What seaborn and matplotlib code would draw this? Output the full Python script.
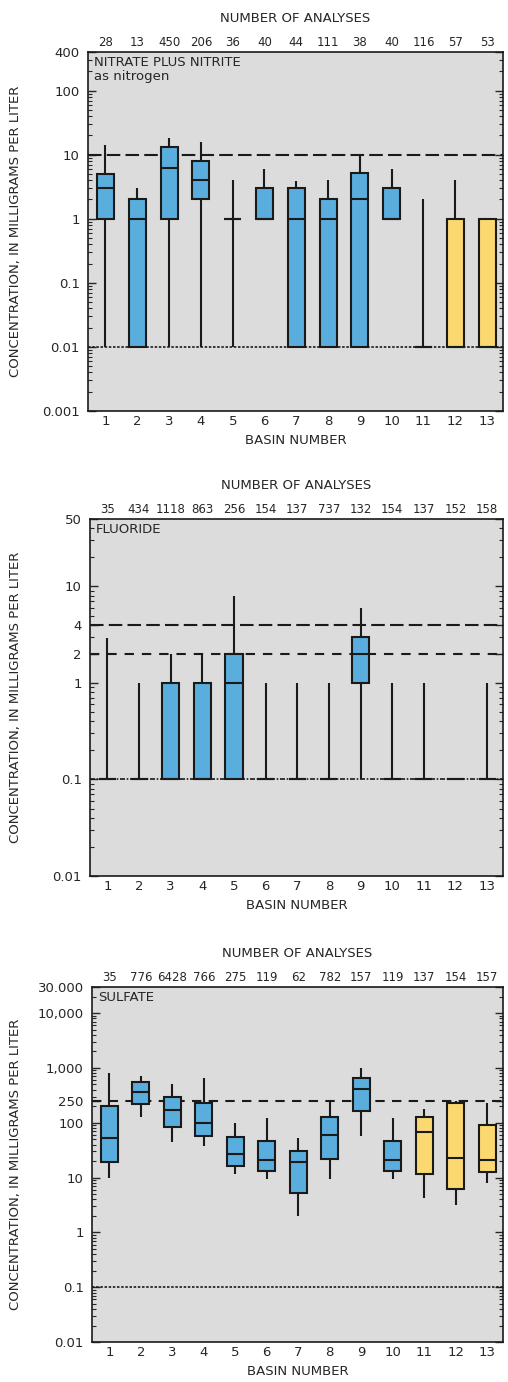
import matplotlib
matplotlib.use('Agg')
import matplotlib.pyplot as plt
import matplotlib.ticker as mticker
import numpy as np
import pandas as pd
import seaborn as sns

"""
Box plots of nitrate, fluoride and sulfate concentrations by basin.
"""

basins = [str(i) for i in range(1, 14)]
basin_group = ['blue'] * 10 + ['yellow'] * 3

# nitrate plus nitrite as nitrogen
nitrate_n = [28, 13, 450, 206, 36, 40, 44, 111, 38, 40, 116, 57, 53]
nitrate_low = [0.01, 0.01, 0.01, 0.01, 0.01, 1, 0.01, 0.01, 0.01, 1, 0.01, 0.01, 0.01]
nitrate_q1 = [1, 0.01, 1, 2, 1, 1, 0.01, 0.01, 0.01, 1, 0.01, 0.01, 0.01]
nitrate_med = [3, 1, 6.3, 4, 1, 1, 1, 1, 2, 1, 0.01, 0.01, 0.01]
nitrate_q3 = [5, 2, 13, 8, 1, 3, 3, 2, 5.2, 3, 0.01, 1, 1]
nitrate_high = [14.4, 3, 18, 16, 4, 6, 3.9, 4, 9.6, 6, 2, 4, 1]

# fluoride
fluoride_n = [35, 434, 1118, 863, 256, 154, 137, 737, 132, 154, 137, 152, 158]
fluoride_low = [0.1] * 13
fluoride_q1 = [0.1, 0.1, 0.1, 0.1, 0.1, 0.1, 0.1, 0.1, 1, 0.1, 0.1, 0.1, 0.1]
fluoride_med = [0.1, 0.1, 0.1, 0.1, 1, 0.1, 0.1, 0.1, 2, 0.1, 0.1, 0.1, 0.1]
fluoride_q3 = [0.1, 0.1, 1, 1, 2, 0.1, 0.1, 0.1, 3, 0.1, 0.1, 0.1, 0.1]
fluoride_high = [2.9, 1, 2, 2, 8, 1, 1, 1, 6, 1, 1, 0.1, 1]

# sulfate
sulfate_n = [35, 776, 6428, 766, 275, 119, 62, 782, 157, 119, 137, 154, 157]
sulfate_low = [10, 129, 45, 37, 11.8, 9.6, 2.0, 9.6, 58, 9.6, 4.3, 3.1, 7.8]
sulfate_q1 = [19.6, 220, 85, 58, 16.5, 13.4, 5.3, 22, 166, 13.4, 11.8, 6.3, 12.9]
sulfate_med = [53, 366, 172, 100, 27, 21, 19.6, 61, 415, 21, 69, 23, 21]
sulfate_q3 = [205, 556, 296, 230, 56, 47, 31, 129, 660, 47, 129, 230, 92]
sulfate_high = [810, 716, 510, 660, 100, 123, 53, 240, 1000, 123, 180, 250, 230]

colors = {'blue': '#5aaedd', 'yellow': '#fbd870'}
bg = '#dcdcdc'

sns.set_style('ticks')
plt.rcParams['font.family'] = ['DejaVu Sans']
plt.rcParams['axes.linewidth'] = 1.2


def five_number_frame(low, q1, med, q3, high):
    rows = []
    for i, b in enumerate(basins):
        for v in (low[i], q1[i], med[i], q3[i], high[i]):
            rows.append({'basin': b, 'group': basin_group[i], 'value': v})
    return pd.DataFrame(rows)


def draw_panel(ax, df, counts, ylim, yticks, yticklabels, title, refs, left_px):
    ax.set_facecolor(bg)
    sns.boxplot(data=df, x='basin', y='value', hue='group', palette=colors,
                order=basins, whis=(0, 100), width=0.54, dodge=False,
                saturation=1, linewidth=1.5, linecolor='#1a1a1a', log_scale=True,
                showcaps=False, legend=False, ax=ax, zorder=3)
    for val, ls, lw in refs:
        ax.axhline(val, color='#1a1a1a', linestyle=ls, linewidth=lw, zorder=2)
    ax.set_ylim(ylim)
    ax.set_xlim(-0.55, 12.5)
    ax.yaxis.set_major_locator(mticker.FixedLocator(yticks))
    ax.yaxis.set_major_formatter(mticker.FixedFormatter(yticklabels))
    ax.yaxis.set_minor_locator(mticker.LogLocator(base=10, subs=np.arange(2, 10)))
    ax.yaxis.set_minor_formatter(mticker.NullFormatter())
    ax.tick_params(axis='y', which='major', direction='in', length=6, width=1,
                   left=True, right=True, labelsize=9.5, pad=6)
    ax.tick_params(axis='y', which='minor', direction='in', length=3, width=0.8,
                   left=True, right=True)
    ax.tick_params(axis='x', length=0, labelsize=9.5, pad=3)
    ax.set_xlabel('BASIN NUMBER', fontsize=9.5, labelpad=4)
    ax.set_ylabel('CONCENTRATION, IN MILLIGRAMS PER LITER', fontsize=9.5)
    ax.yaxis.set_label_coords((22 - left_px) / (503 - left_px), 0.5)
    for s in ax.spines.values():
        s.set_visible(True)
        s.set_color('#1a1a1a')
    top = ax.secondary_xaxis('top')
    top.set_xticks(range(len(basins)))
    top.set_xticklabels([str(c) for c in counts], fontsize=8.5)
    top.tick_params(length=0, pad=2)
    top.spines['top'].set_visible(False)
    top.set_xlabel('NUMBER OF ANALYSES', fontsize=9.5, labelpad=10)
    ax.text(0.015, 0.988, title, transform=ax.transAxes, va='top', ha='left',
            fontsize=9.5, linespacing=1.05, zorder=4)


fig = plt.figure(figsize=(5.08, 13.82), dpi=100)
W, H = 508, 1382


def axes_px(left, top, right, bottom):
    return fig.add_axes([left / W, (H - bottom) / H, (right - left) / W, (bottom - top) / H])


ax1 = axes_px(88, 52, 503, 411)
ax2 = axes_px(90, 519, 503, 876)
ax3 = axes_px(92, 987, 503, 1342)

draw_panel(ax1, five_number_frame(nitrate_low, nitrate_q1, nitrate_med, nitrate_q3, nitrate_high),
           nitrate_n, (0.001, 400), [0.001, 0.01, 0.1, 1, 10, 100, 400],
           ['0.001', '0.01', '0.1', '1', '10', '100', '400'],
           'NITRATE PLUS NITRITE\nas nitrogen',
           [(10, (0, (6.5, 2.5)), 1.5), (0.01, (0, (1.5, 1)), 1.2)], 88)

draw_panel(ax2, five_number_frame(fluoride_low, fluoride_q1, fluoride_med, fluoride_q3, fluoride_high),
           fluoride_n, (0.01, 50), [0.01, 0.1, 1, 2, 4, 10, 50],
           ['0.01', '0.1', '1', '2', '4', '10', '50'],
           'FLUORIDE',
           [(4, (0, (6.5, 2.5)), 1.5), (2, (0, (4.5, 3.8)), 1.5), (0.1, (0, (3, 1, 1, 1)), 1.2)], 90)

draw_panel(ax3, five_number_frame(sulfate_low, sulfate_q1, sulfate_med, sulfate_q3, sulfate_high),
           sulfate_n, (0.01, 30000), [0.01, 0.1, 1, 10, 100, 250, 1000, 10000, 30000],
           ['0.01', '0.1', '1', '10', '100', '250', '1,000', '10,000', '30.000'],
           'SULFATE',
           [(250, (0, (4.5, 3.5)), 1.5), (0.1, (0, (1.5, 1)), 1.2)], 92)

plt.savefig('out.png', dpi=100)
